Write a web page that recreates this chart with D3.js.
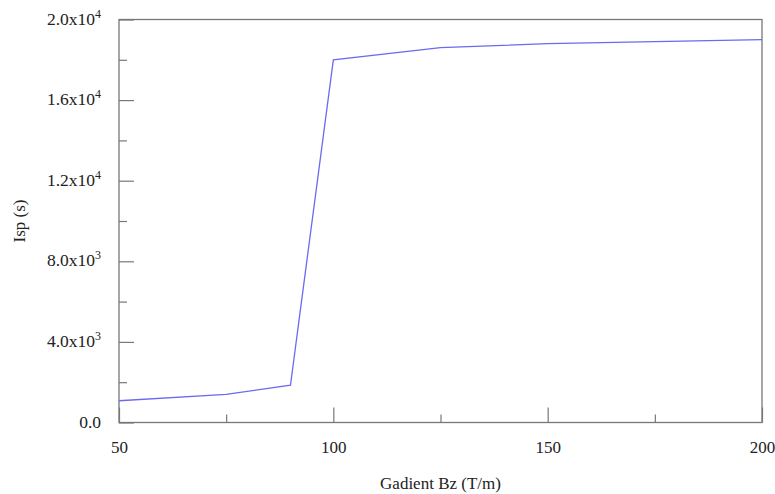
<!DOCTYPE html>
<html>
<head>
<meta charset="utf-8">
<script src="https://cdn.jsdelivr.net/npm/d3@7"></script>
<style>
  body { margin: 0; background: #fff; }
  svg text { font-family: "Liberation Serif", "Times New Roman", serif; fill: #222; }
</style>
</head>
<body>
<div id="graph"></div>
<script>
// gradient (T/m) vs specific impulse (s)
var gradient = [50, 75, 90, 100, 125, 150, 175, 200]
var isp = [1080, 1400, 1850, 18000, 18600, 18800, 18900, 19000]

var xMajor = [50, 100, 150, 200]
var xMinor = [75, 125, 175]
var yMajor = [0, 4000, 8000, 12000, 16000, 20000]
var yMinor = [2000, 6000, 10000, 14000, 18000]
var yLabels = [['0.0', ''], ['4.0x10', '3'], ['8.0x10', '3'], ['1.2x10', '4'], ['1.6x10', '4'], ['2.0x10', '4']]

var width = 775, height = 494
var margin = {left: 119, right: 13, top: 19.5, bottom: 71.5}

var svg = d3.select('#graph').append('svg')
  .attr('width', width).attr('height', height)

var x = d3.scaleLinear().domain([50, 200]).range([margin.left, width - margin.right])
var y = d3.scaleLinear().domain([0, 20000]).range([height - margin.bottom, margin.top])

var axisColor = '#777'

// frame
svg.append('rect')
  .attr('x', x(50)).attr('y', y(20000))
  .attr('width', x(200) - x(50)).attr('height', y(0) - y(20000))
  .attr('fill', 'none').attr('stroke', axisColor).attr('stroke-width', 1.3)

// x ticks, pointing in
var xAxis = d3.axisBottom(x).tickValues(xMajor).tickSize(-15).tickPadding(18)
  .tickFormat(d3.format('d'))
var gx = svg.append('g').attr('transform', `translate(0,${y(0)})`).call(xAxis)
gx.select('.domain').remove()
gx.selectAll('line').attr('stroke', axisColor).attr('stroke-width', 1.2)
gx.selectAll('text').attr('font-size', 17).attr('fill', '#222')

var gxm = svg.append('g').attr('transform', `translate(0,${y(0)})`)
  .call(d3.axisBottom(x).tickValues(xMinor).tickSize(-8).tickFormat(''))
gxm.select('.domain').remove()
gxm.selectAll('line').attr('stroke', axisColor).attr('stroke-width', 1.2)

// y ticks, pointing in
var gy = svg.append('g').attr('transform', `translate(${x(50)},0)`)
  .call(d3.axisLeft(y).tickValues(yMajor).tickSize(-15).tickFormat(''))
gy.select('.domain').remove()
gy.selectAll('line').attr('stroke', axisColor).attr('stroke-width', 1.2)

var gym = svg.append('g').attr('transform', `translate(${x(50)},0)`)
  .call(d3.axisLeft(y).tickValues(yMinor).tickSize(-8).tickFormat(''))
gym.select('.domain').remove()
gym.selectAll('line').attr('stroke', axisColor).attr('stroke-width', 1.2)

// y labels with superscript exponents
yMajor.forEach((v, i) => {
  var t = svg.append('text')
    .attr('x', 101).attr('y', y(v) + 5)
    .attr('text-anchor', 'end').attr('font-size', 17.5)
  t.append('tspan').text(yLabels[i][0])
  if (yLabels[i][1]) t.append('tspan').attr('dy', -7).attr('font-size', 12).text(yLabels[i][1])
})

// line
var line = d3.line().x((d, i) => x(gradient[i])).y(d => y(d))
svg.append('path').datum(isp)
  .attr('d', line)
  .attr('fill', 'none').attr('stroke', '#6a6af2').attr('stroke-width', 1.3)

// axis titles
svg.append('text')
  .attr('x', (x(50) + x(200)) / 2).attr('y', 489)
  .attr('text-anchor', 'middle').attr('font-size', 17)
  .text('Gadient Bz (T/m)')

svg.append('text')
  .attr('transform', `translate(25,${(y(0) + y(20000)) / 2}) rotate(-90)`)
  .attr('text-anchor', 'middle').attr('font-size', 17)
  .text('Isp (s)')
</script>
</body>
</html>
